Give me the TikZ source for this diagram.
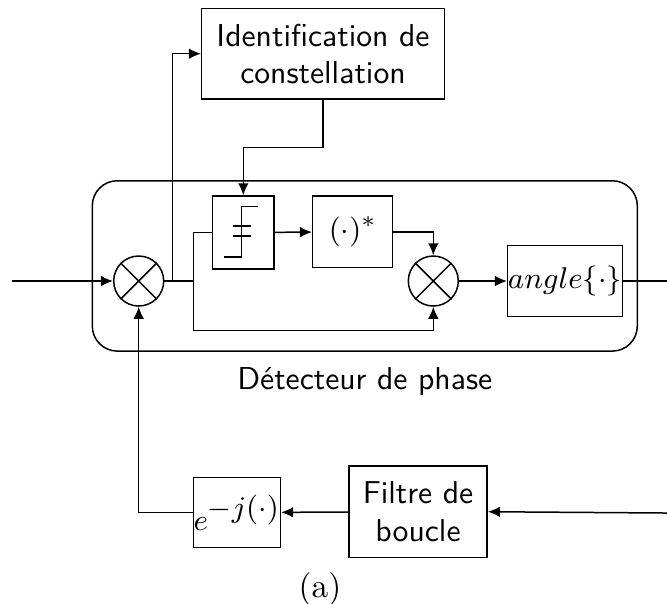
\documentclass[tikz,border=0pt]{standalone}
\usetikzlibrary{positioning, arrows.meta, calc}

\begin{document}
\begin{tikzpicture}[
    x=0.3pt, y=-0.3pt,
    line width=0.45pt,
    block/.style={
      rectangle, draw=black, inner sep=1pt,
      font=\fontsize{9.5}{11.2}\selectfont\sffamily, align=center,
    },
    mult/.style={circle, draw=black, minimum size=15pt, inner sep=0pt},
    arrow/.style={-{Latex[length=3.6pt, width=3.2pt]}},
]
\useasboundingbox (0,0) rectangle (667,603);

% phase detector frame
\node[draw=black, rounded corners=7.5pt, minimum width=163.5pt, minimum height=51.1pt]
    (det) at (364.8,265.9) {};
\node[font=\fontsize{9.5}{11.2}\selectfont\sffamily, below=1pt of det] (detlbl) {D\'etecteur de phase};

\node[mult]                                                    (m1)    at (138.7,281) {};
\node[block, minimum width=72.8pt, minimum height=27.2pt]      (ident) at (323,53.7)
    {Identification de\\constellation};
\node[block, minimum width=18.4pt, minimum height=21.9pt]      (dec)   at (243.3,232.5) {};
\node[block, minimum width=24pt, minimum height=21.5pt]        (conj)  at (352.7,231.8) {$(\cdot)^{*}$};
\node[mult]                                                    (m2)    at (433.3,281) {};
\node[block, minimum width=34.4pt, minimum height=21.4pt, inner sep=0pt] (ang) at (565,281)
    {$angle\{\cdot\}$};

\node[block, minimum width=41.5pt, minimum height=27.4pt]      (filt)  at (418,511.7) {Filtre de\\boucle};
\node[block, minimum width=24.8pt, minimum height=20.9pt, inner sep=0pt] (expo) at (237,512.5)
    {$e^{\textstyle -j(\cdot)}$};

\node (cap) at (320,589) {(a)};

% crosses in the multipliers
\foreach \m in {m1, m2}
    \draw (\m.45) -- (\m.225) (\m.135) -- (\m.315);

% decision symbol
\draw ($(dec.center)+(-19,24.5)$) -- ++(17.4,0) -- ++(0,-50.3) -- ++(16.6,0);
\draw ($(dec.center)+(-10,-6.5)$) -- ++(17.4,0);
\draw ($(dec.center)+(-10,3.5)$)  -- ++(17.4,0);

\coordinate (in)  at (12,281);
\coordinate (out) at (667,281);
\coordinate (fin) at (667,513);
\coordinate (j1)  at (172.3,281);
\coordinate (j2)  at (193.3,281);
\coordinate (lo)  at (193.3,330.3);

\draw[arrow] (in) -- (m1.west);
\draw (m1.east) -- (j2);
\draw[arrow] (j1) |- (ident.west);
\draw (j2) |- (dec.west);
\draw[arrow] (j2) -- (lo) -| (m2.south);
\draw[arrow] (ident.south) -- ++(0,47.7) -| (dec.north);
\draw[arrow] (conj.east) -| (m2.north);
\foreach \a/\b in {dec/conj, m2/ang, filt/expo}
    \draw[arrow] (\a) -- (\b);
\draw (ang.east) -- (out);
\draw[arrow] (fin) -- (filt.east);
\draw[arrow] (expo.west) -| (m1.south);
\end{tikzpicture}
\end{document}
